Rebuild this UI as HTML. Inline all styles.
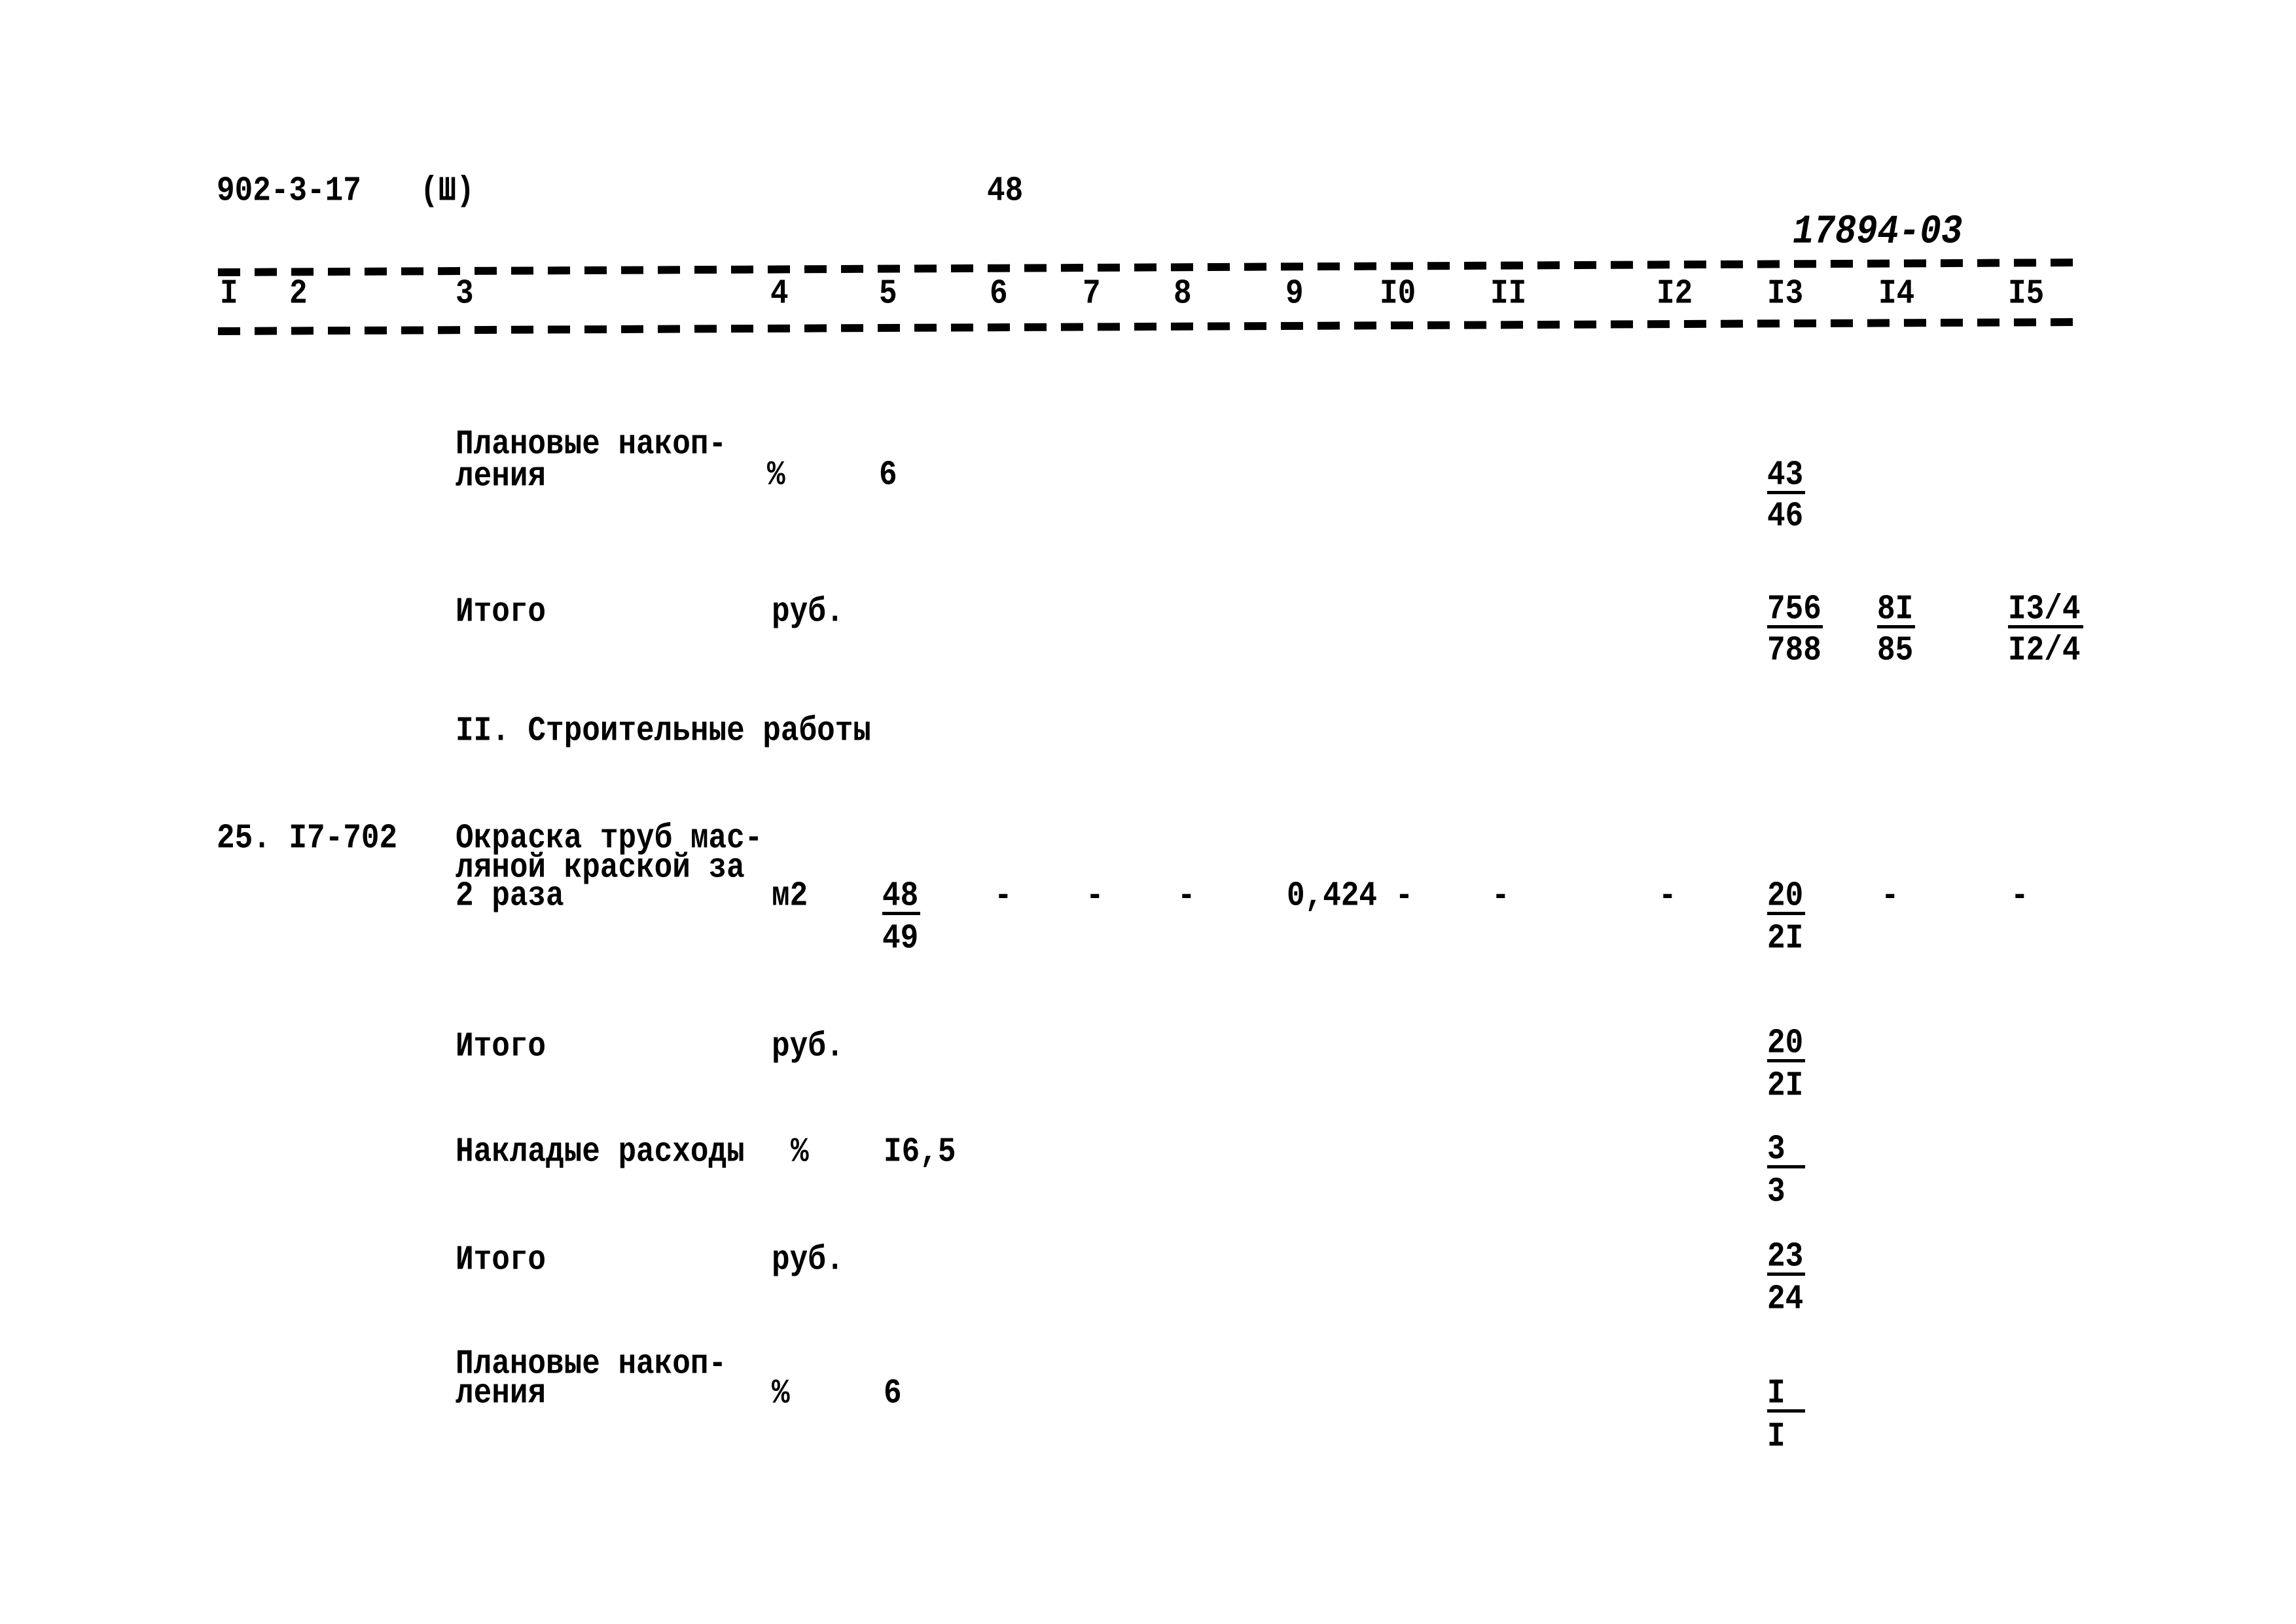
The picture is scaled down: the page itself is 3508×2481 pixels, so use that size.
<!DOCTYPE html>
<html><head><meta charset="utf-8"><style>
html,body{margin:0;padding:0;background:#fff}
body{width:3508px;height:2481px;position:relative;overflow:hidden}
#w{position:absolute;left:-6px;top:-10px;width:3508px;height:2481px}
.t{position:absolute;font-family:"Liberation Mono",monospace;font-weight:bold;font-size:46px;line-height:1;color:#000;white-space:pre;transform:scaleY(1.15);transform-origin:0 70%}
.u{position:absolute;height:5px;background:#000}
</style></head><body>
<svg width="3508" height="2481" style="position:absolute;left:0;top:0">
<line x1="333" y1="416" x2="3175" y2="401" stroke="#000" stroke-width="12" stroke-dasharray="34 22"/>
<line x1="333" y1="506" x2="3175" y2="492" stroke="#000" stroke-width="12" stroke-dasharray="34 22"/>
</svg>
<div id="w">
<div class="t" style="left:337px;top:280px">902-3-17</div>
<div class="t" style="left:648px;top:280px">(Ш)</div>
<div class="t" style="left:1514px;top:280px">48</div>
<div class="t" style="left:2745px;top:340px;font-style:italic;font-size:54px">17894-03</div>

<div class="t" style="left:342px;top:437px">I</div>
<div class="t" style="left:448px;top:437px">2</div>
<div class="t" style="left:702px;top:437px">3</div>
<div class="t" style="left:1183px;top:437px">4</div>
<div class="t" style="left:1349px;top:437px">5</div>
<div class="t" style="left:1518px;top:437px">6</div>
<div class="t" style="left:1660px;top:437px">7</div>
<div class="t" style="left:1799px;top:437px">8</div>
<div class="t" style="left:1970px;top:437px">9</div>
<div class="t" style="left:2114px;top:437px">I0</div>
<div class="t" style="left:2283px;top:437px">II</div>
<div class="t" style="left:2537px;top:437px">I2</div>
<div class="t" style="left:2706px;top:437px">I3</div>
<div class="t" style="left:2876px;top:437px">I4</div>
<div class="t" style="left:3074px;top:437px">I5</div>

<div class="t" style="left:702px;top:667px">Плановые накоп-</div>
<div class="t" style="left:702px;top:716px">ления</div>
<div class="t" style="left:1178px;top:714px">%</div>
<div class="t" style="left:1349px;top:714px">6</div>
<div class="t" style="left:2706px;top:714px">43</div><div class="u" style="left:2706px;top:760px;width:58px"></div>
<div class="t" style="left:2706px;top:777px">46</div>

<div class="t" style="left:702px;top:923px">Итого</div>
<div class="t" style="left:1185px;top:923px">руб.</div>
<div class="t" style="left:2706px;top:919px">756</div><div class="u" style="left:2706px;top:965px;width:85px"></div>
<div class="t" style="left:2706px;top:982px">788</div>
<div class="t" style="left:2874px;top:919px">8I</div><div class="u" style="left:2874px;top:965px;width:58px"></div>
<div class="t" style="left:2874px;top:982px">85</div>
<div class="t" style="left:3074px;top:919px">I3/4</div><div class="u" style="left:3074px;top:965px;width:115px"></div>
<div class="t" style="left:3074px;top:982px">I2/4</div>

<div class="t" style="left:702px;top:1105px">II. Строительные работы</div>

<div class="t" style="left:337px;top:1269px">25. I7-702</div>
<div class="t" style="left:702px;top:1269px">Окраска труб мас-</div>
<div class="t" style="left:702px;top:1314px">ляной краской за</div>
<div class="t" style="left:702px;top:1357px">2 раза</div>
<div class="t" style="left:1185px;top:1357px">м2</div>
<div class="t" style="left:1354px;top:1357px">48</div><div class="u" style="left:1354px;top:1403px;width:58px"></div>
<div class="t" style="left:1354px;top:1422px">49</div>
<div class="t" style="left:1525px;top:1357px">-</div>
<div class="t" style="left:1665px;top:1357px">-</div>
<div class="t" style="left:1805px;top:1357px">-</div>
<div class="t" style="left:1972px;top:1357px">0,424 -</div>
<div class="t" style="left:2285px;top:1357px">-</div>
<div class="t" style="left:2540px;top:1357px">-</div>
<div class="t" style="left:2706px;top:1357px">20</div><div class="u" style="left:2706px;top:1403px;width:58px"></div>
<div class="t" style="left:2706px;top:1422px">2I</div>
<div class="t" style="left:2880px;top:1357px">-</div>
<div class="t" style="left:3078px;top:1357px">-</div>

<div class="t" style="left:702px;top:1587px">Итого</div>
<div class="t" style="left:1185px;top:1587px">руб.</div>
<div class="t" style="left:2706px;top:1582px">20</div><div class="u" style="left:2706px;top:1628px;width:58px"></div>
<div class="t" style="left:2706px;top:1647px">2I</div>

<div class="t" style="left:702px;top:1748px">Накладые расходы</div>
<div class="t" style="left:1214px;top:1748px">%</div>
<div class="t" style="left:1356px;top:1748px">I6,5</div>
<div class="t" style="left:2706px;top:1744px">3</div><div class="u" style="left:2706px;top:1790px;width:58px"></div>
<div class="t" style="left:2706px;top:1809px">3</div>

<div class="t" style="left:702px;top:1913px">Итого</div>
<div class="t" style="left:1185px;top:1913px">руб.</div>
<div class="t" style="left:2706px;top:1908px">23</div><div class="u" style="left:2706px;top:1954px;width:58px"></div>
<div class="t" style="left:2706px;top:1973px">24</div>

<div class="t" style="left:702px;top:2072px">Плановые накоп-</div>
<div class="t" style="left:702px;top:2117px">ления</div>
<div class="t" style="left:1185px;top:2117px">%</div>
<div class="t" style="left:1356px;top:2117px">6</div>
<div class="t" style="left:2706px;top:2117px">I</div><div class="u" style="left:2706px;top:2163px;width:58px"></div>
<div class="t" style="left:2706px;top:2183px">I</div>
</div>
</body></html>
